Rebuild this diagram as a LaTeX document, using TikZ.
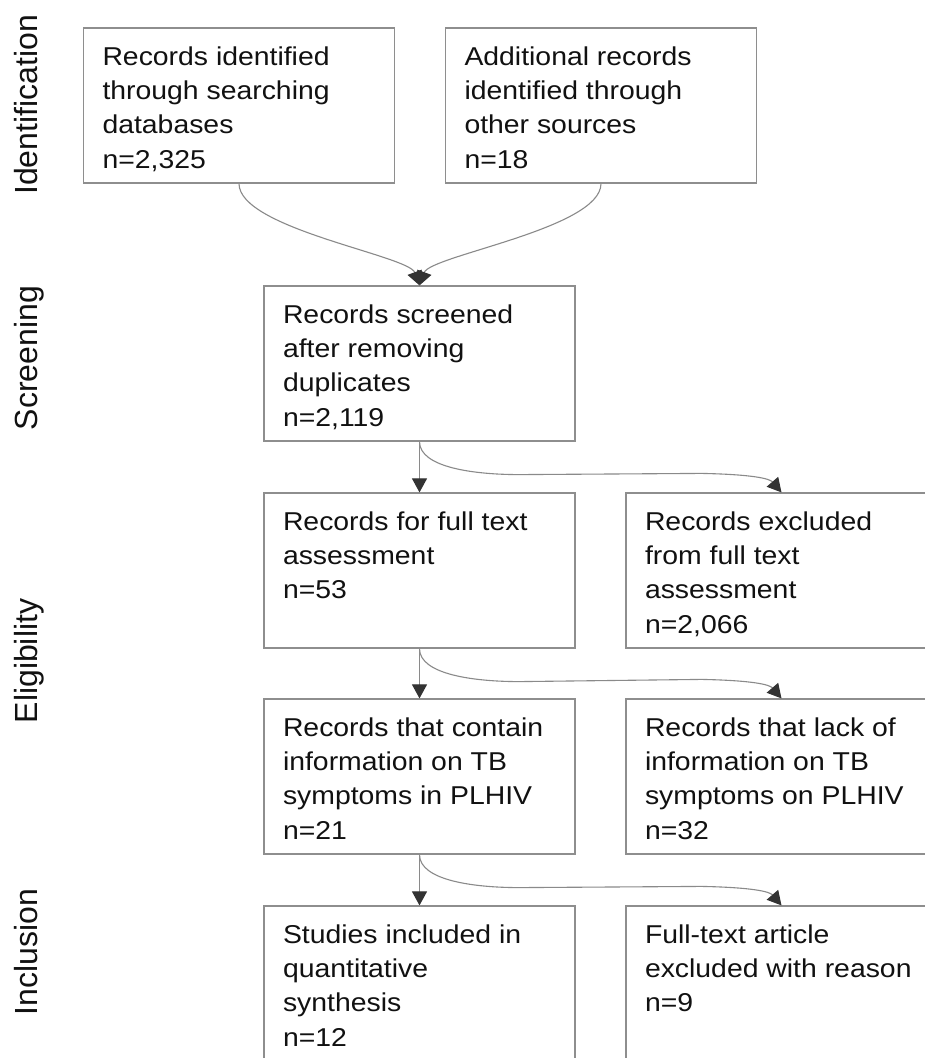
\documentclass[tikz,border=0pt]{standalone}
\usepackage{fontspec}
\setmainfont[FakeStretch=1.10]{Liberation Sans}
\newfontfamily\lblfont{Liberation Sans}
\usetikzlibrary{arrows.meta,calc}
\definecolor{boxgray}{HTML}{8E8E8E}
\definecolor{linegray}{HTML}{8A8A8A}
\definecolor{tipgray}{HTML}{333333}
\definecolor{txt}{HTML}{111111}
\newcommand{\bxtext}[1]{\parbox[c][155pt][t]{273pt}{\raggedright\rule{0pt}{37pt}#1}}
\tikzset{
  flowbox/.style={draw=boxgray, line width=1.2pt, rectangle, inner xsep=19pt, inner ysep=0pt,
    text=txt, font=\fontsize{25.8pt}{34.4pt}\selectfont},
  stagelbl/.style={rotate=90, anchor=base, inner sep=0pt, text=txt,
    font=\lblfont\fontsize{32pt}{38pt}\selectfont},
  conn/.style={draw=linegray, line width=1.1pt,
    -{Triangle[width=15pt,length=14pt,color=tipgray,fill=tipgray]}}
}
\begin{document}
\begin{tikzpicture}[x=1pt,y=-1pt]
\fill[white] (0,0) rectangle (925,1058);
\useasboundingbox (0,0) rectangle (925,1058);
\clip (0,0) rectangle (925,1058);

\node[stagelbl] (lid) at (37,105) {Identification};
\node[stagelbl] (lsc) at (37,358) {Screening};
\node[stagelbl] (lel) at (37,661) {Eligibility};
\node[stagelbl] (lin) at (37,952) {Inclusion};

\node[flowbox] (b1) at (239,105.5) {\bxtext{Records identified\\through searching\\databases\\n=2,325}};
\node[flowbox] (b2) at (601,105.5) {\bxtext{Additional records\\identified through\\other sources\\n=18}};
\node[flowbox] (b3) at (419.5,363.5) {\bxtext{Records screened\\after removing\\duplicates\\n=2,119}};
\node[flowbox] (b4) at (419.5,570.5) {\bxtext{Records for full text\\assessment\\n=53}};
\node[flowbox] (b5) at (781.5,570.5) {\bxtext{Records excluded\\from full text\\assessment\\n=2,066}};
\node[flowbox] (b6) at (419.5,776.5) {\bxtext{Records that contain\\information on TB\\symptoms in PLHIV\\n=21}};
\node[flowbox] (b7) at (781.5,776.5) {\bxtext{Records that lack of\\information on TB\\symptoms on PLHIV\\n=32}};
\node[flowbox] (b8) at (419.5,983.5) {\bxtext{Studies included in\\quantitative\\synthesis\\n=12}};
\node[flowbox] (b9) at (781.5,983.5) {\bxtext{Full-text article\\excluded with reason\\n=9}};

\draw[conn] (b1.south) .. controls +(0,45) and +(-11,-30) .. (b3.north);
\draw[conn] (b2.south) .. controls +(0,45) and +(11,-30) .. (b3.north);

\draw[conn] (b3.south) -- (b4.north);
\draw[conn] (b4.south) -- (b6.north);
\draw[conn] (b6.south) -- (b8.north);

\draw[conn] (b3.south) .. controls +(0,26) and +(-45,0) .. ($(b3.south)+(100,33)$)
  -- ($(b5.north)+(-80,-19)$) .. controls +(50,1) and +(-12,-14) .. (b5.north);
\draw[conn] (b4.south) .. controls +(0,26) and +(-45,0) .. ($(b4.south)+(100,33)$)
  -- ($(b7.north)+(-80,-19)$) .. controls +(50,1) and +(-12,-14) .. (b7.north);
\draw[conn] (b6.south) .. controls +(0,26) and +(-45,0) .. ($(b6.south)+(100,33)$)
  -- ($(b9.north)+(-80,-19)$) .. controls +(50,1) and +(-12,-14) .. (b9.north);
\end{tikzpicture}
\end{document}
